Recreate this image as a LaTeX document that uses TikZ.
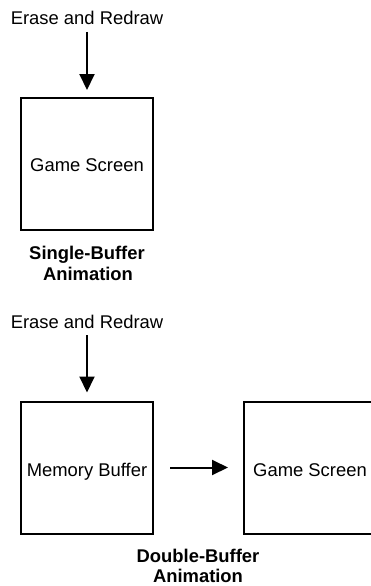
\documentclass[tikz,border=0pt]{standalone}
\usepackage{fontspec}
\setmainfont{Liberation Sans}
\usetikzlibrary{arrows.meta,calc}
\tikzset{
  screen/.style={draw, line width=2pt, minimum width=132pt, minimum height=132pt, inner sep=0pt},
  lbl/.style={anchor=base, inner sep=0pt, font=\fontsize{18.4}{21}\selectfont},
  arr/.style={line width=2pt, -{Triangle[length=16pt,width=15pt]}}
}
\begin{document}
\begin{tikzpicture}[x=1pt,y=-1pt]
\useasboundingbox (0,0) rectangle (371,586);
\clip (0,0) rectangle (371,586);
% single buffer
\node[lbl] (e1) at (87,25) {Erase and Redraw};
\node[screen] (b1) at (87,164) {};
\node[lbl] (g1) at (87,171.5) {Game Screen};
\node[lbl] (c1a) at (87,259.5) {\bfseries Single-Buffer};
\node[lbl] (c1b) at (88,280) {\bfseries Animation};
\draw[arr, shorten >=7pt] ($(e1.base)+(0,7)$) -- (b1.north);
% double buffer
\node[lbl] (e2) at (87,328) {Erase and Redraw};
\node[screen] (b2) at (87,467.5) {};
\node[lbl] (m2) at (87,476) {Memory Buffer};
\node[screen] (b3) at (310,467.5) {};
\node[lbl] (g3) at (310,476) {Game Screen};
\node[lbl] (c2a) at (198,562) {\bfseries Double-Buffer};
\node[lbl] (c2b) at (198,582) {\bfseries Animation};
\draw[arr, shorten >=8pt] ($(e2.base)+(0,7)$) -- (b2.north);
\draw[arr, shorten <=16pt, shorten >=15pt] (b2.east) -- (b3.west);
\end{tikzpicture}
\end{document}
